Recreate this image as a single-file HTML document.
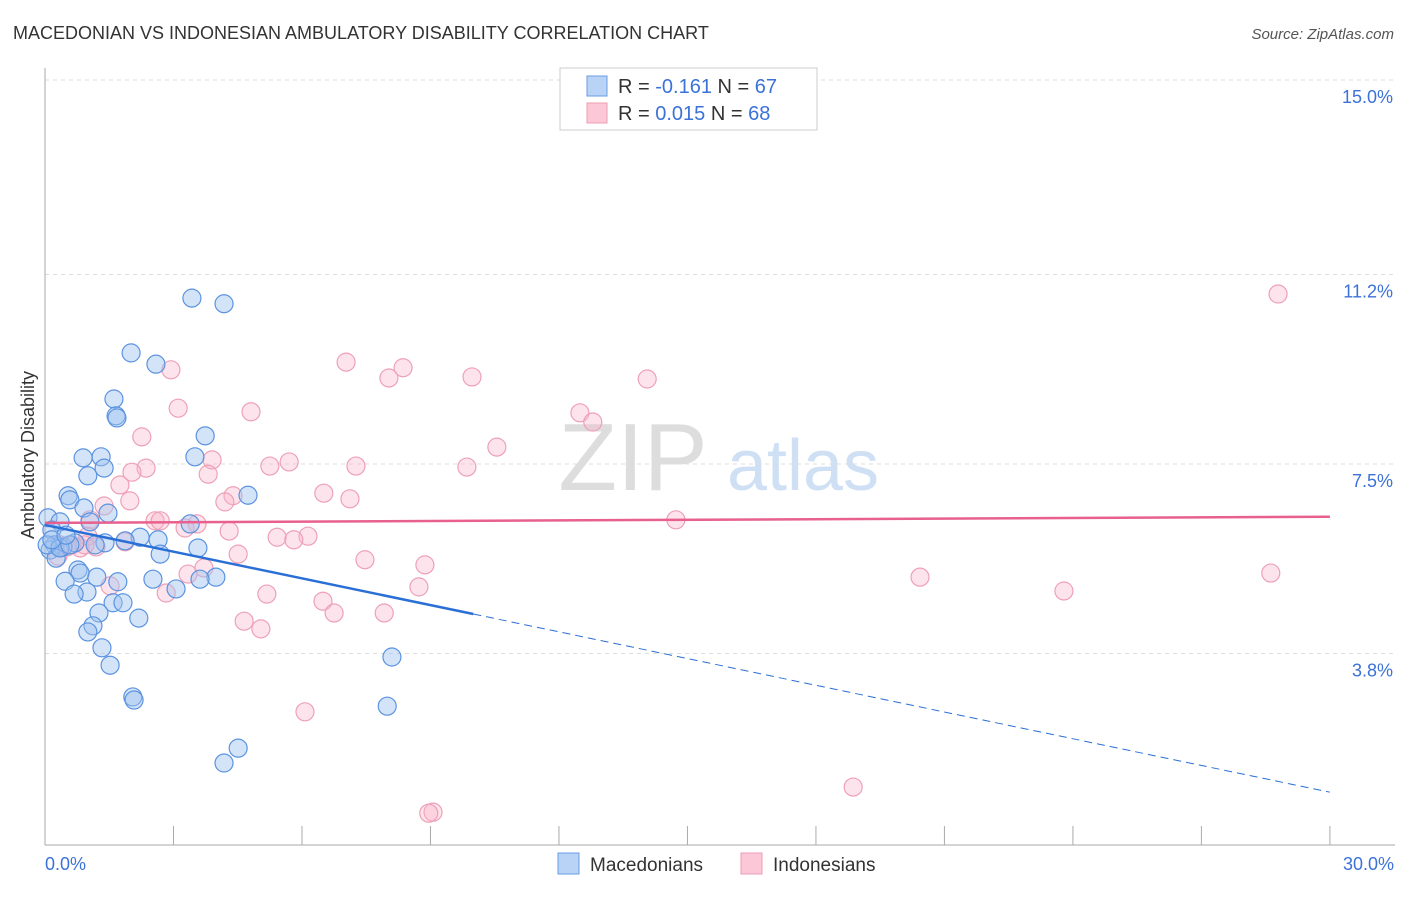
<!DOCTYPE html>
<html><head><meta charset="utf-8"><style>
body{margin:0;background:#fff;font-family:"Liberation Sans",sans-serif}
svg text{font-family:"Liberation Sans",sans-serif}
</style></head><body>
<svg id="chart" width="1406" height="892" viewBox="0 0 1406 892" xmlns="http://www.w3.org/2000/svg">
<text x="13" y="39" font-size="18" fill="#333">MACEDONIAN VS INDONESIAN AMBULATORY DISABILITY CORRELATION CHART</text>
<text x="1394" y="39" font-size="15" font-style="italic" fill="#555" text-anchor="end">Source: ZipAtlas.com</text>
<g>
<text x="633" y="490" font-size="96" fill="#ddd" text-anchor="middle" font-family="Liberation Serif">ZIP</text>
<text x="803" y="490" font-size="72" fill="#cfe0f5" text-anchor="middle">atlas</text>
</g>
<g id="grid"></g>
<g id="axes"></g>
<g id="marks"></g>
<text transform="translate(34,455) rotate(-90)" font-size="18" fill="#333" text-anchor="middle">Ambulatory Disability</text>
<g>
<rect x="560" y="68" width="257" height="62" fill="#fff" stroke="#ccc"/>
<rect x="587" y="76" width="20" height="20" fill="#b8d3f5" stroke="#6a9ee3"/>
<text x="618" y="93" font-size="20" fill="#333">R = <tspan fill="#3b72d9">-0.161</tspan>   N = <tspan fill="#3b72d9">67</tspan></text>
<rect x="587" y="103" width="20" height="20" fill="#fcc8d7" stroke="#ec9db5"/>
<text x="618" y="120" font-size="20" fill="#333">R =  <tspan fill="#3b72d9">0.015</tspan>   N = <tspan fill="#3b72d9">68</tspan></text>
</g>
<g>
<rect x="558" y="853" width="21" height="21" fill="#b8d3f5" stroke="#6a9ee3"/>
<text x="590" y="871" font-size="19" fill="#333">Macedonians</text>
<rect x="741" y="853" width="21" height="21" fill="#fcc8d7" stroke="#ec9db5"/>
<text x="773" y="871" font-size="19" fill="#333">Indonesians</text>
</g>
</svg>
<script>
const yTicks=[15.0,11.2,7.5,3.8];
const yTickLabels=["15.0%","11.2%","7.5%","3.8%"];
const xTickLabels=["0.0%","30.0%"];
const macX=[3.43,4.18,2.01,2.59,1.61,1.66,1.68,3.74,3.50,0.89,1.31,1.38,1.00,4.74,0.54,0.58,0.91,1.47,0.07,0.35,1.05,3.39,0.16,2.22,1.87,2.64,1.40,1.17,0.23,0.70,0.42,0.12,3.57,2.69,0.26,0.77,0.82,1.21,1.70,2.52,3.99,3.62,0.47,3.06,0.98,0.68,1.59,1.82,1.26,2.19,1.12,1.00,1.33,8.10,1.52,2.05,2.08,7.99,4.51,4.18,0.05,0.35,0.58,0.16,0.49];
const macY=[10.74,10.63,9.67,9.45,8.77,8.44,8.40,8.05,7.64,7.62,7.64,7.42,7.27,6.89,6.88,6.80,6.64,6.54,6.45,6.37,6.37,6.33,6.21,6.07,6.00,6.02,5.96,5.92,5.92,5.96,5.88,5.82,5.86,5.74,5.66,5.43,5.37,5.29,5.20,5.25,5.29,5.25,5.21,5.06,5.00,4.96,4.79,4.79,4.59,4.49,4.34,4.22,3.91,3.73,3.57,2.95,2.89,2.77,1.95,1.66,5.92,5.86,5.92,6.02,6.11];
const indX=[28.79,7.03,8.36,8.03,9.97,14.06,2.94,3.11,4.81,12.49,12.79,2.26,10.55,3.90,2.36,5.25,5.70,7.26,9.85,2.03,3.81,1.75,6.51,7.12,4.39,4.20,1.38,1.98,1.05,2.57,2.69,3.55,3.27,14.73,4.30,1.00,5.42,6.14,5.81,1.87,1.19,0.51,0.82,0.30,4.51,7.47,3.71,8.87,3.34,20.43,28.62,1.52,8.73,2.83,5.18,23.79,6.49,6.75,7.92,4.65,5.04,6.07,18.87,9.06,8.96,0.35,0.63,0.93];
const indY=[10.82,9.49,9.38,9.18,9.20,9.16,9.34,8.59,8.52,8.50,8.32,8.03,7.83,7.58,7.42,7.46,7.54,7.46,7.44,7.34,7.30,7.09,6.93,6.82,6.88,6.76,6.68,6.78,6.41,6.39,6.39,6.33,6.25,6.41,6.19,6.09,6.07,6.09,6.02,5.98,5.88,5.88,5.86,5.70,5.74,5.63,5.47,5.53,5.35,5.29,5.37,5.12,5.10,4.98,4.96,5.02,4.82,4.59,4.59,4.43,4.28,2.66,1.19,0.70,0.68,5.92,5.92,5.92];
const macTrend=[6.31,-0.174];
const indTrend=[6.35,0.004];
const macSolidEnd=10.0;

const NS="http://www.w3.org/2000/svg";
const X=v=>45+v*42.83;
const Y=v=>80+(15-v)*51.2;
function mk(tag,attrs,parent){const e=document.createElementNS(NS,tag);for(const k in attrs)e.setAttribute(k,attrs[k]);parent.appendChild(e);return e;}
const grid=document.getElementById('grid'),axes=document.getElementById('axes'),marks=document.getElementById('marks');
yTicks.forEach((t,i)=>{
  const l=mk('line',{x1:45,x2:1395,y1:Y(t),y2:Y(t),stroke:'#ddd','stroke-dasharray':'4,4'},grid);
  
  
  const tx=mk('text',{x:1393,y:Y(t)+23,'font-size':18,fill:'#3b72d9','text-anchor':'end'},axes);
  tx.textContent=yTickLabels[i];
  
  
});
mk('line',{x1:45,x2:45,y1:68,y2:845,stroke:'#aaa'},axes);
mk('line',{x1:45,x2:1395,y1:845,y2:845,stroke:'#aaa'},axes);
for(let i=0;i<=10;i++){const l=mk('line',{x1:X(i*3),x2:X(i*3),y1:826,y2:845,stroke:'#aaa'},axes);
  
  }
const xl0=mk('text',{x:45,y:870,'font-size':18,fill:'#3b72d9'},axes);xl0.textContent=xTickLabels[0];


const xl1=mk('text',{x:1394,y:870,'font-size':18,fill:'#3b72d9','text-anchor':'end'},axes);xl1.textContent=xTickLabels[1];


indX.forEach((x,i)=>{const c=mk('circle',{cx:X(x),cy:Y(indY[i]),r:9,fill:'rgba(248,178,200,0.35)',stroke:'#eea0b8','stroke-width':1.2},marks);
  
  });
macX.forEach((x,i)=>{const c=mk('circle',{cx:X(x),cy:Y(macY[i]),r:9,fill:'rgba(160,196,240,0.45)',stroke:'#5b93e0','stroke-width':1.2},marks);
  
  });
const mt=v=>macTrend[0]+macTrend[1]*v, it=v=>indTrend[0]+indTrend[1]*v;
const l1=mk('line',{x1:X(0),y1:Y(mt(0)),x2:X(macSolidEnd),y2:Y(mt(macSolidEnd)),stroke:'#2a6fd6','stroke-width':2.5},marks);


const l2=mk('line',{x1:X(macSolidEnd),y1:Y(mt(macSolidEnd)),x2:X(30),y2:Y(mt(30)),stroke:'#2a6fd6','stroke-width':1,'stroke-dasharray':'8,5'},marks);


const l3=mk('line',{x1:X(0),y1:Y(it(0)),x2:X(30),y2:Y(it(30)),stroke:'#e8608e','stroke-width':2.5},marks);


</script>
</body></html>
